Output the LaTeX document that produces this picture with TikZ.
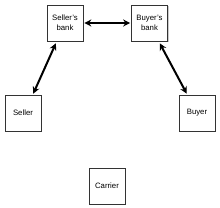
\documentclass[tikz,border=0pt]{standalone}
\usepackage{fontspec}
\setmainfont{Liberation Sans}
\usetikzlibrary{arrows.meta,calc,shadows}

\begin{document}
\begin{tikzpicture}[x=1bp, y=1bp,
  party/.style={draw=black!80, line width=0.6bp, fill=white, align=center,
    minimum width=36bp, minimum height=36bp, inner sep=0pt,
    font=\fontsize{7.8}{10}\selectfont,
    drop shadow={shadow xshift=1.2bp, shadow yshift=-1.2bp, fill=black!35, opacity=0.6}},
  link/.style={<->, line width=2bp, >={Stealth[length=7bp, width=7bp]}}]
  \useasboundingbox (0,0) rectangle (220,208);
  % banks
  \node[party] (sbank) at (65,185) {Seller's\\bank};
  \node[party] (bbank) at (149.5,185) {Buyer's\\bank};
  % trading parties
  \node[party] (seller) at (23,95) {Seller};
  \node[party] (buyer) at (197,95) {Buyer};
  \node[party] (carrier) at (107,22) {Carrier};
  \draw[link, shorten <=1bp, shorten >=1bp] (sbank.east) -- (bbank.west);
  \draw[link] ($(sbank.south west)!0.25!(sbank.south east)+(0,-2)$)
    -- ($(seller.north west)!0.78!(seller.north east)+(0,1)$);
  \draw[link] ($(bbank.south west)!0.78!(bbank.south east)+(0,-2)$)
    -- ($(buyer.north west)!0.22!(buyer.north east)+(0,1)$);
\end{tikzpicture}
\end{document}
